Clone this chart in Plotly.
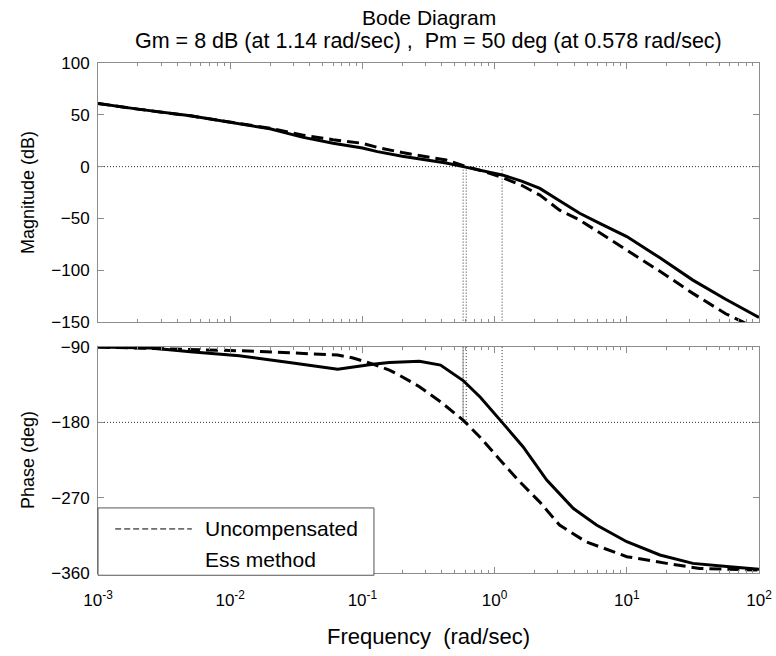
import plotly.graph_objects as go
from plotly.subplots import make_subplots

# ---- frequency response data (rad/sec) ----
mag_freq_ess = [0.001, 0.002, 0.005, 0.01, 0.02, 0.035, 0.06, 0.1, 0.13, 0.2, 0.3, 0.43,
                0.578, 0.8, 1.14, 1.6, 2.2, 3.1, 4.4, 6.3, 10, 17.8, 31.6, 56, 100]
mag_db_ess = [61, 55.5, 49, 43, 36.5, 28.5, 22.5, 18, 14.5, 10, 6.3, 3.5,
              0, -3.5, -8, -14, -21, -33, -45, -55, -67.5, -88, -109.5, -128, -145.5]

mag_freq_unc = [0.001, 0.002, 0.005, 0.01, 0.02, 0.035, 0.06, 0.1, 0.13, 0.2, 0.3, 0.43,
                0.61, 0.8, 1.14, 1.6, 2.2, 3.1, 4.4, 6.3, 10, 17.8, 31.6, 56, 76, 100]
mag_db_unc = [61, 55.5, 49, 43, 37, 30.5, 26, 22.5, 18.5, 13.6, 9.7, 6.4,
              0, -4, -10.5, -18, -27.5, -42, -51.5, -64, -80.5, -101, -122.3, -142, -150, -159]

ph_freq_ess = [0.001, 0.0025, 0.005, 0.0117, 0.028, 0.065, 0.12, 0.16, 0.27, 0.39, 0.578,
               0.78, 1.14, 1.64, 2.48, 3.93, 5.9, 10, 17.8, 31.6, 60, 100]
ph_deg_ess = [-90, -91, -95.5, -100.5, -108.5, -116.5, -110.5, -108.5, -107, -111.5, -130,
              -150, -180, -209, -249, -282.7, -302.7, -322.6, -338.5, -348.5, -352.6, -355.5]

ph_freq_unc = [0.001, 0.005, 0.0117, 0.028, 0.065, 0.085, 0.12, 0.16, 0.19, 0.27, 0.39, 0.578,
               0.78, 1.1, 1.55, 2.19, 3.1, 4.9, 10, 20, 35.5, 100]
ph_deg_unc = [-90, -92.7, -94.4, -96.8, -99.6, -103, -110.3, -117.5, -123.5, -137.4, -155.4, -177.3,
              -198, -225, -251, -275, -302.7, -322.6, -340.5, -348.5, -354.5, -356.5]

# margin markers
pm_freq = 0.578      # phase-margin frequency
gm_freq = 1.14       # gain-margin frequency
unc_cross_freq = 0.61
mag_range = [-150, 100]
ph_range = [-360, -90]
mag_ticks = [-150, -100, -50, 0, 50, 100]
ph_ticks = [-360, -270, -180, -90]
x_tick_vals = [0.001, 0.01, 0.1, 1, 10, 100]
x_tick_text = ["10<sup>-3</sup>", "10<sup>-2</sup>", "10<sup>-1</sup>",
               "10<sup>0</sup>", "10<sup>1</sup>", "10<sup>2</sup>"]
x_minor_vals = [m * d for d in [0.001, 0.01, 0.1, 1, 10] for m in range(2, 10)]

FONT = "Liberation Sans"
AX_GRAY = "#8c8c8c"

fig = make_subplots(rows=2, cols=1)

dot = dict(color="#333333", width=1, dash="1px,2px")

# reference lines: 0 dB, -180 deg, margin frequencies
fig.add_trace(go.Scatter(x=[0.001, 100], y=[0, 0], mode="lines", line=dot,
                         hoverinfo="skip", showlegend=False), row=1, col=1)
fig.add_trace(go.Scatter(x=[0.001, 100], y=[-180, -180], mode="lines", line=dot,
                         hoverinfo="skip", showlegend=False), row=2, col=1)
for f in [pm_freq, unc_cross_freq, gm_freq]:
    fig.add_trace(go.Scatter(x=[f, f], y=[0, mag_range[0]], mode="lines", line=dot,
                             hoverinfo="skip", showlegend=False), row=1, col=1)
    fig.add_trace(go.Scatter(x=[f, f], y=[ph_range[1], -180], mode="lines", line=dot,
                             hoverinfo="skip", showlegend=False), row=2, col=1)
fig.add_trace(go.Scatter(x=[pm_freq, pm_freq], y=[ph_range[1], -180], mode="lines",
                         line=dict(color="#999999", width=1),
                         hoverinfo="skip", showlegend=False), row=2, col=1)

# Bode curves
dash_style = dict(color="black", width=3, dash="12px,6px")
solid_style = dict(color="black", width=3)
fig.add_trace(go.Scatter(x=mag_freq_unc, y=mag_db_unc, mode="lines", line=dash_style,
                         name="Uncompensated", showlegend=False), row=1, col=1)
fig.add_trace(go.Scatter(x=mag_freq_ess, y=mag_db_ess, mode="lines", line=solid_style,
                         name="Ess method", showlegend=False), row=1, col=1)
fig.add_trace(go.Scatter(x=ph_freq_unc, y=ph_deg_unc, mode="lines", line=dash_style,
                         name="Uncompensated", showlegend=False), row=2, col=1)
fig.add_trace(go.Scatter(x=ph_freq_ess, y=ph_deg_ess, mode="lines", line=solid_style,
                         name="Ess method", showlegend=False), row=2, col=1)

axis_common = dict(showline=True, linecolor=AX_GRAY, linewidth=1, mirror="ticks",
                   ticks="inside", tickcolor=AX_GRAY, ticklen=6, showgrid=False,
                   zeroline=False, automargin=False,
                   tickfont=dict(family=FONT, size=17, color="black"))

xaxis_common = dict(axis_common, type="log", range=[-3, 2], tickvals=x_tick_vals,
                    minor=dict(tickvals=x_minor_vals, ticks="inside", ticklen=3,
                               tickcolor=AX_GRAY, showgrid=False))

fig.update_xaxes(xaxis_common, row=1, col=1, showticklabels=False)
fig.update_xaxes(xaxis_common, row=2, col=1, ticktext=x_tick_text, ticklabelstandoff=12,
                 title=dict(text="Frequency  (rad/sec)", font=dict(family=FONT, size=22, color="black"),
                            standoff=19))
fig.update_yaxes(axis_common, row=1, col=1, range=mag_range, tickvals=mag_ticks,
                 ticklabelstandoff=4,
                 title=dict(text="Magnitude (dB)", font=dict(family=FONT, size=18, color="black"),
                            standoff=11))
fig.update_yaxes(axis_common, row=2, col=1, range=ph_range, tickvals=ph_ticks,
                 ticklabelstandoff=4,
                 title=dict(text="Phase (deg)", font=dict(family=FONT, size=18, color="black"),
                            standoff=11))

fig.update_layout(
    width=776, height=656,
    margin=dict(l=98, r=17, t=63, b=83),
    plot_bgcolor="white", paper_bgcolor="white",
    showlegend=False,
    xaxis=dict(domain=[0, 1]), xaxis2=dict(domain=[0, 1]),
    yaxis=dict(domain=[0.492, 1.0]), yaxis2=dict(domain=[0.0, 0.443]),
)

# titles
fig.add_annotation(text="Bode Diagram", xref="paper", yref="paper", x=0.5, y=1.0,
                   yshift=46, showarrow=False, xanchor="center", yanchor="middle",
                   font=dict(family=FONT, size=21, color="black"))
fig.add_annotation(text="Gm = 8 dB (at 1.14 rad/sec) ,  Pm = 50 deg (at 0.578 rad/sec)",
                   xref="paper", yref="paper", x=0.5, y=1.0, yshift=22, showarrow=False,
                   xanchor="center", yanchor="middle",
                   font=dict(family=FONT, size=21.5, color="black"))

# legend box inside the phase panel
fig.add_shape(type="rect", xref="x2 domain", yref="y2 domain", x0=0, x1=0.4175, y0=-0.01, y1=0.288,
              line=dict(color="#555555", width=1), fillcolor="white", layer="above")
fig.add_shape(type="line", xref="x2 domain", yref="y2 domain", x0=0.026, x1=0.142, y0=0.195, y1=0.195,
              line=dict(color="black", width=1, dash="6px,3px"), layer="above")
fig.add_annotation(text="Uncompensated", xref="x2 domain", yref="y2 domain", x=0.159, y=0.195,
                   showarrow=False, xanchor="left", yanchor="middle",
                   font=dict(family=FONT, size=21, color="black"))
fig.add_annotation(text="Ess method", xref="x2 domain", yref="y2 domain", x=0.159, y=0.058,
                   showarrow=False, xanchor="left", yanchor="middle",
                   font=dict(family=FONT, size=21, color="black"))

fig.write_html("out.html")
